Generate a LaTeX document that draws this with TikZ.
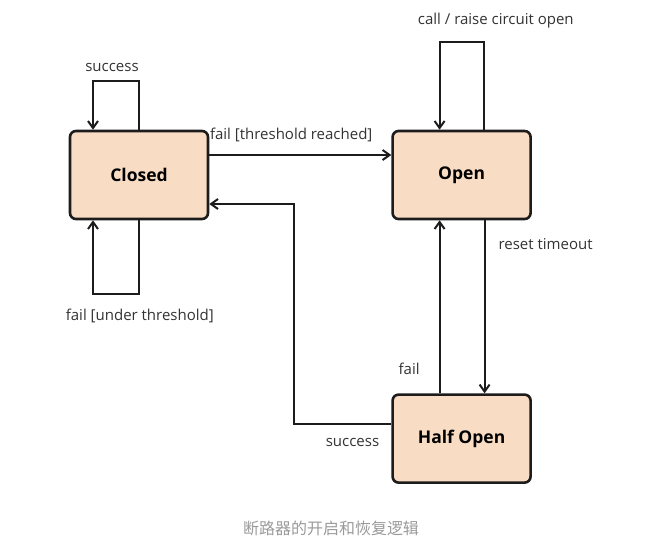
\documentclass[tikz,border=0pt]{standalone}
\usepackage{fontspec}
\setmainfont{Open Sans}
\newfontfamily\cjk{Noto Sans CJK SC}
\usepackage{xcolor}
\usetikzlibrary{arrows.meta,positioning}
\definecolor{Peach}{HTML}{F9DCC4}
\definecolor{Ink}{HTML}{1C1C1C}
\definecolor{Note}{HTML}{333333}
\definecolor{Caption}{HTML}{9A9A9A}

\begin{document}
\begin{tikzpicture}[x=1pt,y=1pt,>={Straight Barb[length=7pt,width=10pt]},
  font=\fontsize{15}{18}\selectfont,
  statebox/.style={draw=Ink,line width=2.6pt,rounded corners=6pt,fill=Peach,
    minimum width=138pt,minimum height=88pt,font=\fontsize{17.5}{21}\selectfont\bfseries},
  link/.style={->,draw=Ink,line width=2pt},
  lbl/.style={text=Note,inner sep=1pt}]
  \useasboundingbox (0,0) rectangle (665,-555);
  \node[statebox] (closed) at (139,-175) {Closed};
  \node[statebox,right=182pt of closed] (open) {Open};
  \node[statebox,below=173pt of open] (half) {Half Open};
  % self loops
  \draw[link] (closed.north) -- ++(0,49) -| node[lbl,pos=0.25,above=7pt,xshift=-4pt] {success} ([xshift=-46pt]closed.north);
  \draw[link] (closed.south) -- ++(0,-74) -| node[lbl,pos=0.1,below=13pt,xshift=10pt] {fail [under threshold]} ([xshift=-46pt]closed.south);
  \draw[link] ([xshift=22pt]open.north) -- ++(0,88) -| node[lbl,pos=0.1,above=12pt,xshift=21pt] {call / raise circuit open} ([xshift=-22pt]open.north);
  % transitions
  \draw[link] ([yshift=20pt]closed.east) -- node[lbl,pos=0.45,above=11pt] {fail [threshold reached]} ([yshift=20pt]open.west);
  \draw[link] ([xshift=23pt]open.south) -- node[lbl,pos=0.14,right=12pt] {reset timeout} ([xshift=23pt]half.north);
  \draw[link] ([xshift=-22pt]half.north) -- node[lbl,pos=0.14,left=18pt] {fail} ([xshift=-22pt]open.south);
  \draw[link] ([yshift=15pt]half.west) -- node[lbl,pos=0.4,below=13pt] {success} ([xshift=85pt,yshift=15pt]half.west -| closed.east) |- ([yshift=-29pt]closed.east);
  % caption
  \node[text=Caption,font=\cjk\fontsize{16}{19}\selectfont] (cap) at (331,-528) {断路器的开启和恢复逻辑};
\end{tikzpicture}
\end{document}
